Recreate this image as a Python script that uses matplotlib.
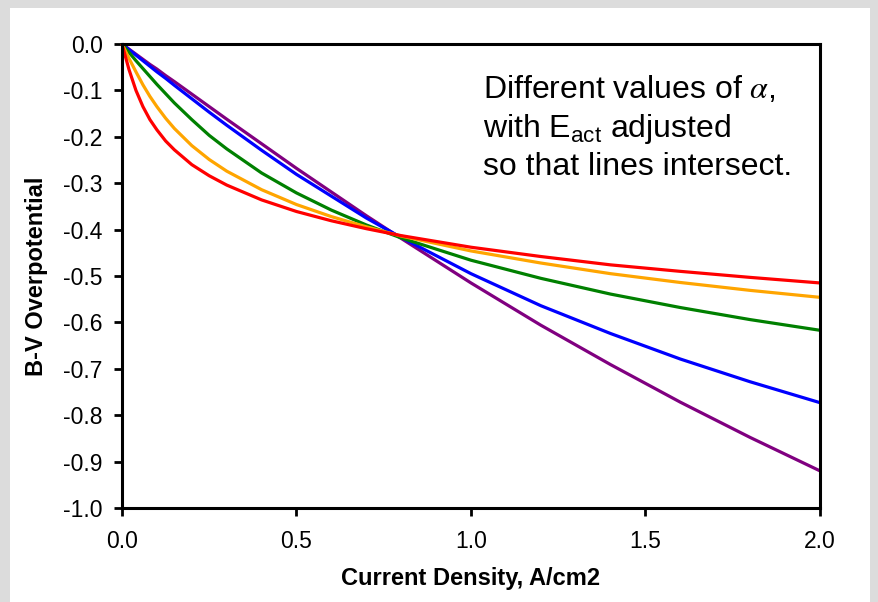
import matplotlib.pyplot as plt
from matplotlib.patches import Rectangle

# current density, A/cm2
current = [0.0, 0.02, 0.04, 0.06, 0.08, 0.1, 0.125, 0.15, 0.2, 0.25, 0.3,
           0.4, 0.5, 0.6, 0.7, 0.8, 1.0, 1.2, 1.4, 1.6, 1.8, 2.0]

# B-V overpotential, one list per alpha
eta_red = [0.0, -0.055, -0.100, -0.135, -0.163, -0.185, -0.209, -0.228, -0.260,
           -0.284, -0.304, -0.336, -0.361, -0.381, -0.398, -0.413, -0.438,
           -0.458, -0.476, -0.490, -0.503, -0.515]
eta_orange = [0.0, -0.031, -0.060, -0.088, -0.113, -0.135, -0.160, -0.182, -0.219,
              -0.249, -0.274, -0.314, -0.346, -0.372, -0.394, -0.414, -0.446,
              -0.472, -0.495, -0.514, -0.531, -0.546]
eta_green = [0.0, -0.018, -0.036, -0.053, -0.070, -0.087, -0.107, -0.127, -0.163,
             -0.197, -0.226, -0.278, -0.321, -0.358, -0.390, -0.418, -0.466,
             -0.505, -0.539, -0.568, -0.594, -0.617]
eta_blue = [0.0, -0.012, -0.024, -0.036, -0.048, -0.060, -0.074, -0.089, -0.118,
            -0.147, -0.175, -0.229, -0.281, -0.328, -0.375, -0.417, -0.495,
            -0.564, -0.624, -0.679, -0.728, -0.773]
eta_purple = [0.0, -0.011, -0.022, -0.033, -0.044, -0.054, -0.068, -0.081, -0.108,
              -0.135, -0.162, -0.215, -0.268, -0.319, -0.370, -0.419, -0.515,
              -0.606, -0.691, -0.772, -0.848, -0.920]

series = [eta_purple, eta_blue, eta_green, eta_orange, eta_red]
colors = ['#800080', '#0000ff', '#008000', '#ffa500', '#ff0000']

note_lines = ['Different values of $\\alpha$,',
              'with E$_{\\mathregular{act}}$ adjusted',
              'so that lines intersect.']

plt.rcParams['font.family'] = ['Liberation Sans', 'DejaVu Sans']
plt.rcParams['mathtext.fontset'] = 'custom'
plt.rcParams['mathtext.rm'] = 'Liberation Sans'
plt.rcParams['mathtext.it'] = 'Liberation Sans:italic'

fig = plt.figure(figsize=(8.79, 6.02), dpi=100, facecolor='#dcdcdc')
fig.patches.append(Rectangle((10 / 879, 0), 860 / 879, 594 / 602,
                             transform=fig.transFigure, facecolor='white',
                             edgecolor='none', zorder=-10))

ax = fig.add_axes([122 / 879, 94 / 602, 698 / 879, 464 / 602])
for eta, c in zip(series, colors):
	ax.plot(current, eta, color=c, lw=2.3, solid_capstyle='butt', clip_on=False)

ax.set_xlim(0, 2.0)
ax.set_ylim(-1.0, 0.0)
ax.set_xticks([0.0, 0.5, 1.0, 1.5, 2.0])
ax.set_yticks([-1.0 + 0.1 * i for i in range(11)])
ax.xaxis.set_major_formatter(plt.FormatStrFormatter('%.1f'))
ax.yaxis.set_major_formatter(plt.FormatStrFormatter('%.1f'))
ax.tick_params(direction='out', length=6, width=2, labelsize=16.5, pad=8)
ax.tick_params(axis='x', pad=10)
for s in ax.spines.values():
	s.set_linewidth(2.2)

ax.set_xlabel('Current Density, A/cm2', fontsize=17, fontweight='bold', va='center')
ax.set_ylabel('B-V Overpotential', fontsize=17, fontweight='bold', va='center')
ax.xaxis.set_label_coords(0.5, (508 - 579) / 464)
ax.yaxis.set_label_coords((37 - 122) / 698, 0.5)

ax.text(0.5172, 0.8836, note_lines[0], transform=ax.transAxes, fontsize=23,
        math_fontfamily='stix')
ax.text(0.5172, 0.7996, note_lines[1], transform=ax.transAxes, fontsize=23)
ax.text(0.5172, 0.7177, note_lines[2], transform=ax.transAxes, fontsize=23)

fig.savefig('out.png', dpi=100, facecolor=fig.get_facecolor())
